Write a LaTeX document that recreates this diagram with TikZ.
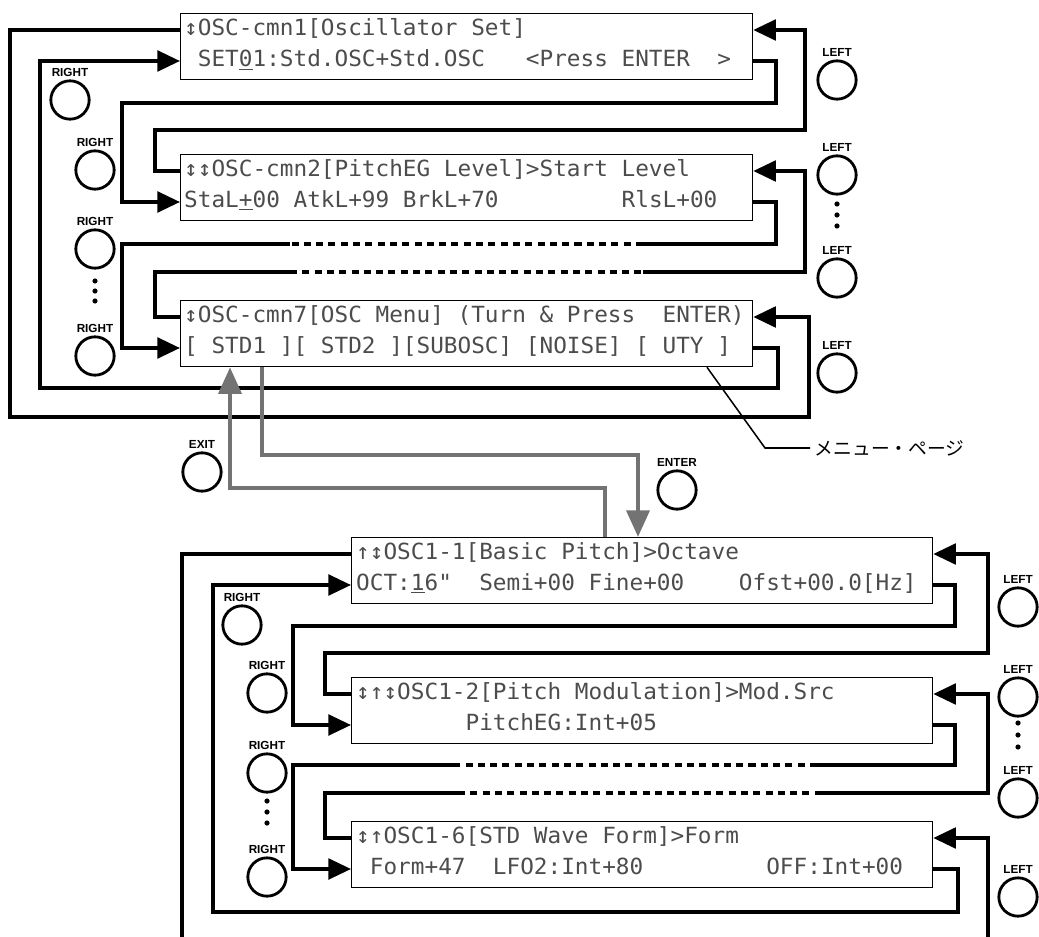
\documentclass[tikz,border=0pt]{standalone}
\usepackage{fontspec}
\setsansfont{Liberation Sans}
\newfontfamily\lcdfont{DejaVu Sans Mono}[FakeStretch=1.02]
\newfontfamily\jpfont{Noto Sans CJK JP}
\usetikzlibrary{positioning,arrows.meta,calc}

\begin{document}
\begin{tikzpicture}[x=0.03cm,y=-0.03cm,>={Triangle[length=0.68cm,width=0.62cm]},
  lcd/.style={draw,line width=1.1pt,minimum width=#1*0.03cm,minimum height=1.98cm,inner sep=0pt,anchor=north west},
  row/.style={anchor=west,inner sep=0pt,text height=14pt,text depth=4pt,text=black!70,font=\lcdfont\fontsize{19}{19}\selectfont},
  link/.style={line width=3pt},
  gap/.style={line width=3pt,dash pattern=on 6pt off 4.5pt},
  knob/.style={circle,draw,line width=2.4pt,minimum size=1.15cm,inner sep=0pt,label={[btn]above:#1}},
  btn/.style={font=\sffamily\bfseries\fontsize{10}{10}\selectfont,inner sep=1pt,label distance=1.5pt},
  jump/.style={line width=4pt,draw=black!55,-{Triangle[length=0.8cm,width=0.68cm]}}]
\useasboundingbox[fill=white] (0,0) rectangle (1039,937);

\node[lcd=572] (c1) at (180,13) {};
\node[lcd=572] (c2) at (180,154) {};
\node[lcd=572] (c3) at (180,300) {};
\node[lcd=581] (c4) at (351,537) {};
\node[lcd=581] (c5) at (351,677) {};
\node[lcd=581] (c6) at (351,821) {};

\node[row] (c1a) at (184,30) {↕OSC-cmn1[Oscillator~Set]};
\node[row] (c1b) at (184,61) {~SET\underline{0}1:Std.OSC+Std.OSC~~~<Press~ENTER~~>};
\node[row] (c2a) at (184,171) {↕↕OSC-cmn2[PitchEG~Level]>Start~Level};
\node[row] (c2b) at (184,202) {StaL\underline{+}00~AtkL+99~BrkL+70~~~~~~~~~RlsL+00};
\node[row] (c3a) at (184,317) {↕OSC-cmn7[OSC~Menu]~(Turn~\&~Press~~ENTER)};
\node[row] (c3b) at (184,348) {[~STD1~][~STD2~][SUBOSC]~[NOISE]~[~UTY~]};
\node[row] (c4a) at (356,554) {↑↕OSC1-1[Basic~Pitch]>Octave};
\node[row] (c4b) at (356,585) {OCT:\underline{1}6"~~Semi+00~Fine+00~~~~Ofst+00.0[Hz]};
\node[row] (c5a) at (356,694) {↕↑↕OSC1-2[Pitch~Modulation]>Mod.Src};
\node[row] (c5b) at (356,725) {~~~~~~~~PitchEG:Int+05};
\node[row] (c6a) at (356,838) {↕↑OSC1-6[STD~Wave~Form]>Form};
\node[row] (c6b) at (356,869) {~Form+47~~LFO2:Int+80~~~~~~~~~OFF:Int+00};

\foreach \n/\x/\y/\t in {r1/70/100/RIGHT,r2/95/170/RIGHT,r3/95/249/RIGHT,r4/95/356/RIGHT,
  l1/837/80/LEFT,l2/837/175/LEFT,l3/837/278/LEFT,l4/837/373/LEFT,
  exit/202/472/EXIT,enter/677/490/ENTER,
  r5/242/625/RIGHT,r6/267/693/RIGHT,r7/267/773/RIGHT,r8/267/877/RIGHT,
  l5/1018/607/LEFT,l6/1018/697/LEFT,l7/1018/798/LEFT,l8/1018/897/LEFT}
  \node[knob=\t] (\n) at (\x,\y) {};
\foreach \y in {281,291,301} \fill (95,\y) circle (2.6);
\foreach \y in {204,215,226} \fill (837,\y) circle (2.6);
\foreach \y in {801,812,823} \fill (267,\y) circle (2.6);
\foreach \y in {723,735,747} \fill (1018,\y) circle (2.6);

\draw[link,->] (c1.east |- c1b) -| (776,103) -- (122,103) |- (c2.west |- c2b);
\draw[link,->] (c2.west |- c2a) -| (155,130) -- (805,130) |- (c1.east |- c1a);
\draw[link] (c2.east |- c2b) -| (776,244) -- (643,244);
\draw[gap] (643,244) -- (290,244);
\draw[link,->] (290,244) -- (122,244) |- (c3.west |- c3b);
\draw[link] (c3.west |- c3a) -| (155,272) -- (290,272);
\draw[gap] (290,272) -- (643,272);
\draw[link,->] (643,272) -- (805,272) |- (c2.east |- c2a);
\draw[link,->] (c3.east |- c3b) -| (778,388) -- (40,388) |- (c1.west |- c1b);
\draw[link,->] (c1.west |- c1a) -| (10,417) -- (809,417) |- (c3.east |- c3a);

\coordinate (botL) at (182,937);
\coordinate (botR) at (988,937);
\draw[link,->] (c4.east |- c4b) -| (955,626) -- (293,626) |- (c5.west |- c5b);
\draw[link,->] (c5.west |- c5a) -| (325,653) -- (988,653) |- (c4.east |- c4a);
\draw[link] (c5.east |- c5b) -| (955,765) -- (817,765);
\draw[gap] (817,765) -- (458,765);
\draw[link,->] (458,765) -- (293,765) |- (c6.west |- c6b);
\draw[link] (c6.west |- c6a) -| (325,793) -- (458,793);
\draw[gap] (458,793) -- (817,793);
\draw[link,->] (817,793) -- (988,793) |- (c5.east |- c5a);
\draw[link,->] (c6.east |- c6b) -| (958,912) -- (213,912) |- (c4.west |- c4b);
\draw[link] (c4.west |- c4a) -| (botL);
\draw[link,->] (botR) |- (c6.east |- c6a);

\draw[jump] (c4.north -| 605,0) |- (230,488) -- (c3.south -| 230,0);
\draw[jump] (c3.south -| 262,0) |- (638,455) -- (c4.north -| 638,0);

\node[font=\jpfont\fontsize{16}{16}\selectfont,anchor=west,inner sep=4pt] (menu) at (810,448) {メニュー・ページ};
\draw[line width=1.3pt] (c3.south -| 707,0) -- (765,448) -- (menu.west);
\end{tikzpicture}
\end{document}
